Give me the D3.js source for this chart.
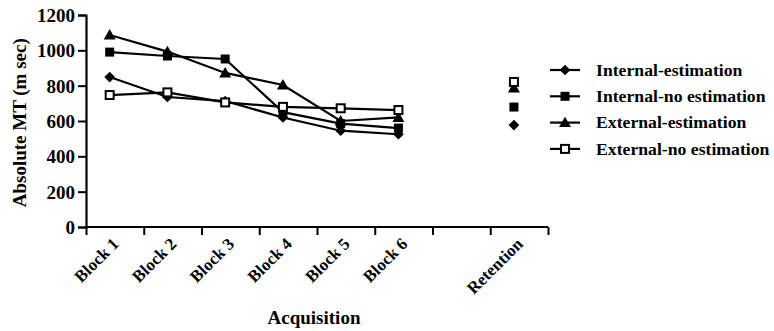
<!DOCTYPE html>
<html>
<head>
<meta charset="utf-8">
<script src="https://cdn.jsdelivr.net/npm/d3@7"></script>
<style>
  body { margin: 0; background: #fff; }
</style>
</head>
<body>
<div class="chart"></div>
<script>
// ---------------------------------- DATA
var categories = ["Block 1", "Block 2", "Block 3", "Block 4", "Block 5", "Block 6", "Retention"];
var slots = [0, 1, 2, 3, 4, 5, 7];   // slot of each category along the x axis
var seriesNames = ["Internal-estimation", "Internal-no estimation", "External-estimation", "External-no estimation"];
var internalEst   = [849, 736, 713, 620, 545, 525, 577];
var internalNoEst = [990, 968, 951, 650, 585, 560, 679];
var externalEst   = [1087, 993, 872, 804, 600, 620, 787];
var externalNoEst = [747, 762, 705, 680, 672, 662, 821];
var yTicks = [0, 200, 400, 600, 800, 1000, 1200];

var seriesValues = [internalEst, internalNoEst, externalEst, externalNoEst];
var symbols = ["diamond", "square", "triangle", "open"];

var FONT = "'Liberation Serif', 'Times New Roman', Times, serif";

// ---------------------------------- LAYOUT
var width = 774, height = 331;
var svg = d3.select(".chart").append("svg")
  .attr("width", width)
  .attr("height", height)
  .style("font-family", FONT);

var x = d3.scaleLinear().domain([0, 8]).range([86, 548]);
var y = d3.scaleLinear().domain([0, 1200]).range([227, 15]);
var offset = 0.41;   // points sit a bit right of each tick
function px(i) { return x(slots[i] + offset); }

function txt(sel, size) {
  return sel.style("font-family", FONT).style("font-size", size + "px")
    .style("font-weight", "bold").attr("fill", "#000");
}

// ---------------------------------- AXES
var yAxis = d3.axisLeft(y).tickValues(yTicks).tickSize(8).tickPadding(3).tickFormat(d3.format("d"));
var xAxis = d3.axisBottom(x).tickValues(d3.range(0, 9)).tickSize(8).tickFormat("");

var gy = svg.append("g").attr("transform", "translate(" + x(0) + ",0)").call(yAxis);
gy.attr("font-family", null).attr("font-size", null);
gy.select(".domain").attr("stroke-width", 2.2);
gy.selectAll(".tick line").attr("stroke-width", 2);
txt(gy.selectAll(".tick text"), 19).attr("dy", "0.34em");

var gx = svg.append("g").attr("transform", "translate(0," + y(0) + ")").call(xAxis);
gx.attr("font-family", null).attr("font-size", null);
gx.select(".domain").attr("stroke-width", 2.2).attr("d", "M" + x(0) + ",0H" + x(8));
gx.selectAll(".tick line").attr("stroke-width", 2);

// rotated category labels
txt(svg.selectAll("text.cat")
  .data(categories)
  .enter().append("text")
    .attr("class", "cat")
    .attr("text-anchor", "end")
    .attr("transform", function(d, i) {
      return "translate(" + (px(i) + 10) + "," + (y(0) + 18) + ") rotate(-45)";
    })
    .text(function(d) { return d; }), 17);

txt(svg.append("text")
  .attr("x", 314).attr("y", 324)
  .attr("text-anchor", "middle")
  .text("Acquisition"), 19);

txt(svg.append("text")
  .attr("transform", "translate(26," + y(590) + ") rotate(-90)")
  .attr("text-anchor", "middle")
  .text("Absolute MT (m sec)"), 19);

// ---------------------------------- MARKERS
function drawSymbol(g, type, cx, cy) {
  if (type === "diamond") {
    g.append("rect").attr("x", -3.8).attr("y", -3.8).attr("width", 7.6).attr("height", 7.6)
      .attr("transform", "translate(" + cx + "," + cy + ") rotate(45)").attr("fill", "#000");
  } else if (type === "square") {
    g.append("rect").attr("x", cx - 4.5).attr("y", cy - 4.5).attr("width", 9).attr("height", 9).attr("fill", "#000");
  } else if (type === "triangle") {
    g.append("path").attr("d", d3.symbol(d3.symbolTriangle, 62)()).attr("transform", "translate(" + cx + "," + (cy + 1) + ")").attr("fill", "#000");
  } else {
    g.append("rect").attr("x", cx - 4).attr("y", cy - 4).attr("width", 8).attr("height", 8)
      .attr("fill", "#fff").attr("stroke", "#000").attr("stroke-width", 2);
  }
}

var line = d3.line()
  .x(function(d, i) { return px(i); })
  .y(function(d) { return y(d); });

seriesValues.forEach(function(vals, s) {
  var g = svg.append("g");
  var acq = vals.slice(0, 6);
  g.append("path")
    .attr("fill", "none")
    .attr("stroke", "#000")
    .attr("stroke-width", 2.2)
    .attr("d", line(acq));
  vals.forEach(function(v, i) { drawSymbol(g, symbols[s], px(i), y(v)); });
});

// ---------------------------------- LEGEND
var legend = svg.append("g");
seriesNames.forEach(function(name, s) {
  var ly = 70 + s * 26.3;
  legend.append("line")
    .attr("x1", 550).attr("x2", 580).attr("y1", ly).attr("y2", ly)
    .attr("stroke", "#000").attr("stroke-width", 2.2);
  drawSymbol(legend, symbols[s], 565, ly);
  txt(legend.append("text")
    .attr("x", 596).attr("y", ly).attr("dy", "0.33em")
    .text(name), 17.7);
});
</script>
</body>
</html>
